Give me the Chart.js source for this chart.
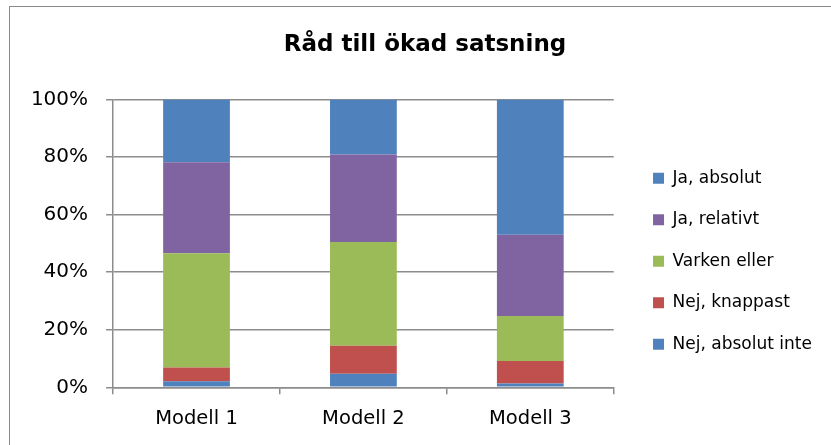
<!DOCTYPE html>
<html>
<head>
<meta charset="utf-8">
<script src="https://cdn.jsdelivr.net/npm/chart.js@4"></script>
<style>
    body { margin: 0; background: #fff; }
    #wrap { position: relative; width: 831px; height: 445px; overflow: hidden; }
    #frame { position: absolute; left: 9px; top: 6px; width: 900px; height: 500px; border: 1px solid #8a8a8a; pointer-events: none; }
</style>
</head>
<body>
<div id="wrap">
    <canvas id="chart" width="831" height="445"></canvas>
    <div id="frame"></div>
</div>
<script>
// values in percent
const categories = ['Modell 1', 'Modell 2', 'Modell 3'];
const nejAbsolutInte = [2.1, 4.7, 1.3];
const nejKnappast = [4.8, 9.7, 7.8];
const varkenEller = [39.7, 36.1, 15.7];
const jaRelativt = [31.6, 30.4, 28.2];
const jaAbsolut = [21.8, 19.1, 47.0];

const yTicks = [0, 20, 40, 60, 80, 100];

Chart.defaults.font.family = 'DejaVu Sans';
Chart.defaults.color = '#000';

// push legend and title to where Excel put them
const nudge = {
    id: 'nudge',
    afterLayout(chart) {
        const l = chart.legend;
        l.left += 14.8; l.right += 14.8;
        l.top += 34.3; l.bottom += 34.3;
        const t = chart.titleBlock;
        t.left += 15; t.right += 15;
    }
};

const gridGray = '#8c8c8c';

new Chart(document.getElementById('chart'), {
    type: 'bar',
    data: {
        labels: categories,
        datasets: [
            { label: 'Nej, absolut inte', data: nejAbsolutInte, backgroundColor: '#4f81bd' },
            { label: 'Nej, knappast', data: nejKnappast, backgroundColor: '#c0504d' },
            { label: 'Varken eller', data: varkenEller, backgroundColor: '#9bbb59' },
            { label: 'Ja, relativt', data: jaRelativt, backgroundColor: '#8064a2' },
            { label: 'Ja, absolut', data: jaAbsolut, backgroundColor: '#4f81bd' }
        ]
    },
    options: {
        responsive: false,
        animation: false,
        layout: { padding: { top: 10, left: 12.9, right: 23.9, bottom: 1.3 } },
        datasets: {
            bar: { barPercentage: 0.4, categoryPercentage: 1, borderWidth: 0 }
        },
        scales: {
            x: {
                stacked: true,
                grid: { drawOnChartArea: false, drawTicks: true, tickLength: 7, color: gridGray, lineWidth: 1.5, offset: true },
                border: { color: gridGray, width: 1.5 },
                ticks: { padding: 13, font: { size: 19.5 } }
            },
            y: {
                stacked: true,
                min: 0,
                max: 100,
                afterBuildTicks(axis) {
                    axis.ticks = yTicks.map(v => ({ value: v }));
                },
                grid: { color: gridGray, lineWidth: 1.5, tickLength: 7 },
                border: { color: gridGray, width: 1.5 },
                ticks: { padding: 18, font: { size: 20 }, callback: v => v + '%' }
            }
        },
        plugins: {
            title: {
                display: true,
                text: 'Råd till ökad satsning',
                font: { size: 23, weight: 'bold' },
                color: '#000',
                padding: { top: 21, bottom: 41 }
            },
            legend: {
                position: 'right',
                reverse: true,
                labels: { boxWidth: 11, boxHeight: 11, padding: 24.5, font: { size: 17 }, color: '#000' }
            },
            tooltip: { enabled: false }
        }
    },
    plugins: [nudge]
});
</script>
</body>
</html>
